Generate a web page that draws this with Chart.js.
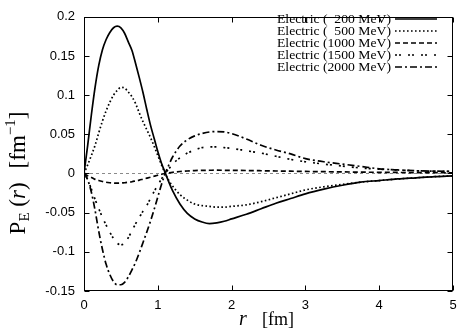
<!DOCTYPE html>
<html><head><meta charset="utf-8">
<script src="https://cdn.jsdelivr.net/npm/chart.js@4"></script>
<style>html,body{margin:0;padding:0;background:#fff}#wrap{width:469px;height:336px}</style>
</head><body><div id="wrap"><canvas id="c" width="469" height="336"></canvas></div>
<script>
// radius r [fm]
const r = [0,0.05,0.1,0.15,0.2,0.25,0.3,0.35,0.4,0.45,0.5,0.55,0.6,0.65,0.7,0.75,0.8,0.85,0.9,0.95,1.0,1.05,1.1,1.15,1.2,1.3,1.4,1.5,1.6,1.7,1.8,1.9,2.0,2.2,2.4,2.6,2.8,3.0,3.25,3.5,3.75,4.0,4.25,4.5,4.75,5.0];
const e200 = [0,0.036,0.075,0.110,0.138,0.158,0.171,0.180,0.186,0.188,0.186,0.179,0.168,0.157,0.140,0.122,0.103,0.082,0.062,0.045,0.028,0.013,0.001,-0.011,-0.022,-0.039,-0.051,-0.058,-0.062,-0.064,-0.063,-0.061,-0.058,-0.052,-0.045,-0.038,-0.032,-0.026,-0.020,-0.015,-0.011,-0.009,-0.007,-0.0055,-0.004,-0.003];
const e500 = [0,0.011,0.023,0.036,0.052,0.067,0.080,0.091,0.100,0.106,0.110,0.109,0.104,0.098,0.089,0.077,0.066,0.056,0.046,0.035,0.023,0.011,0.000,-0.009,-0.016,-0.027,-0.034,-0.039,-0.041,-0.042,-0.043,-0.043,-0.042,-0.040,-0.036,-0.031,-0.026,-0.021,-0.017,-0.014,-0.011,-0.009,-0.007,-0.0055,-0.004,-0.003];
const e1000 = [0,-0.003,-0.005,-0.0075,-0.009,-0.0102,-0.0112,-0.0118,-0.0122,-0.0123,-0.0122,-0.0118,-0.0112,-0.0105,-0.0095,-0.0085,-0.0072,-0.006,-0.0048,-0.0035,-0.0022,-0.001,0.0,0.0008,0.0015,0.0025,0.0032,0.0037,0.004,0.0041,0.0042,0.0041,0.004,0.0038,0.0035,0.0032,0.0029,0.0026,0.0023,0.002,0.0017,0.0015,0.0013,0.0011,0.001,0.0009];
const e1500 = [0,-0.008,-0.020,-0.033,-0.045,-0.056,-0.066,-0.075,-0.083,-0.089,-0.091,-0.089,-0.082,-0.073,-0.064,-0.056,-0.048,-0.041,-0.032,-0.023,-0.015,-0.007,0.000,0.006,0.012,0.020,0.026,0.030,0.033,0.034,0.034,0.033,0.032,0.029,0.026,0.022,0.018,0.015,0.012,0.0095,0.007,0.0055,0.0045,0.0035,0.003,0.0025];
const e2000 = [0,-0.008,-0.024,-0.047,-0.074,-0.097,-0.116,-0.129,-0.138,-0.142,-0.142,-0.139,-0.132,-0.123,-0.113,-0.101,-0.088,-0.075,-0.061,-0.046,-0.030,-0.014,0.000,0.011,0.021,0.035,0.043,0.048,0.051,0.053,0.0535,0.053,0.051,0.044,0.036,0.030,0.025,0.019,0.015,0.012,0.009,0.006,0.0045,0.0035,0.003,0.0025];
const seriesLabels = ['Electric (  200 MeV)','Electric (  500 MeV)','Electric (1000 MeV)','Electric (1500 MeV)','Electric (2000 MeV)'];
const xTicks = [0,1,2,3,4,5];
const xTickLabels = ['0','1','2','3','4','5'];
const yTicks = [-0.15,-0.1,-0.05,0,0.05,0.1,0.15,0.2];
const yTickLabels = ['-0.15','-0.1','-0.05','0','0.05','0.1','0.15','0.2'];

const series = [e200,e500,e1000,e1500,e2000];
const dashes = [[],[1.6,2.4],[5,3],[2,2,2,7],[7,3,2,3]];

const datasets = series.map((s,i)=>({
  label: seriesLabels[i],
  data: r.map((x,j)=>({x:x,y:s[j]})),
  borderColor:'#000',
  borderWidth:1.7,
  borderDash:dashes[i],
  pointRadius:0,
  fill:false,
  cubicInterpolationMode:'monotone'
}));

function drawRuns(ctx, runs, x0, y0){
  let x = x0;
  runs.forEach(rn=>{
    ctx.font = rn.f;
    ctx.fillText(rn.t, x, y0 + (rn.dy||0));
    x += ctx.measureText(rn.t).width + (rn.gap||0);
  });
}
function runsWidth(ctx, runs){
  let w=0; runs.forEach(rn=>{ctx.font=rn.f; w+=ctx.measureText(rn.t).width+(rn.gap||0);}); return w;
}

const framePlugin = {
  id:'frame',
  beforeDatasetsDraw(chart){
    const ctx=chart.ctx, a=chart.chartArea, ys=chart.scales.y;
    const y0 = Math.round(ys.getPixelForValue(0))+0.5;
    ctx.save();
    ctx.strokeStyle='#8a8a8a'; ctx.lineWidth=1; ctx.setLineDash([3,3]);
    ctx.beginPath(); ctx.moveTo(a.left,y0); ctx.lineTo(a.right,y0); ctx.stroke();
    ctx.restore();
  },
  afterDatasetsDraw(chart){
    const ctx=chart.ctx, a=chart.chartArea, xs=chart.scales.x, ys=chart.scales.y;
    ctx.save();
    ctx.strokeStyle='#000'; ctx.lineWidth=1; ctx.setLineDash([]);
    const L=Math.round(a.left)+0.5, R=Math.round(a.right)-0.5, T=Math.round(a.top)+0.5, B=Math.round(a.bottom)-0.5;
    ctx.strokeRect(L,T,R-L,B-T);
    ctx.beginPath();
    xs.ticks.forEach(t=>{const p=Math.round(xs.getPixelForValue(t.value))+0.5; ctx.moveTo(p,B); ctx.lineTo(p,B-5); ctx.moveTo(p,T); ctx.lineTo(p,T+5);});
    ys.ticks.forEach(t=>{const p=Math.round(ys.getPixelForValue(t.value))+0.5; ctx.moveTo(L,p); ctx.lineTo(L+5,p); ctx.moveTo(R,p); ctx.lineTo(R-5,p);});
    ctx.stroke();
    // legend
    const font='13px "Liberation Serif", "Times New Roman", serif';
    ctx.font=font;
    const sx = 114/ctx.measureText(seriesLabels[2]).width;
    chart.data.datasets.forEach((d,i)=>{
      const yy = 19 + i*12;
      ctx.save();
      ctx.translate(391,yy);
      ctx.scale(sx,1);
      ctx.fillStyle='#000'; ctx.textAlign='right'; ctx.textBaseline='middle'; ctx.font=font;
      ctx.fillText(d.label,0,0.5);
      ctx.restore();
      ctx.save();
      ctx.strokeStyle='#000'; ctx.lineWidth=d.borderWidth; ctx.setLineDash(d.borderDash);
      ctx.beginPath(); ctx.moveTo(395,yy); ctx.lineTo(437,yy); ctx.stroke();
      ctx.restore();
    });
    ctx.restore();
  },
  afterDraw(chart){
    const ctx=chart.ctx;
    ctx.save();
    ctx.fillStyle='#000'; ctx.textBaseline='alphabetic'; ctx.textAlign='left';
    const S='"Liberation Serif", "Times New Roman", serif';
    // x title
    ctx.font='italic 20px '+S; ctx.fillText('r',239,325);
    ctx.font='18px '+S; ctx.fillText('[fm]',262,325);
    // y title
    const runs=[
      {t:'P',f:'23px '+S},
      {t:'E',f:'15px '+S,dy:4},
      {t:' (',f:'23px '+S},
      {t:'r',f:'italic 23px '+S},
      {t:')',f:'23px '+S, gap:14},
      {t:'[fm',f:'23px '+S},
      {t:'\u22121',f:'15px '+S,dy:-10},
      {t:']',f:'23px '+S}
    ];
    const w=runsWidth(ctx,runs);
    ctx.translate(17,173);
    ctx.rotate(-Math.PI/2);
    drawRuns(ctx,runs,-w/2,8);
    ctx.restore();
  }
};

new Chart(document.getElementById('c'),{
  type:'line',
  data:{datasets:datasets},
  options:{
    responsive:false, animation:false, devicePixelRatio:1,
    layout:{padding:{left:0,top:16,right:16,bottom:0}},
    plugins:{legend:{display:false},tooltip:{enabled:false}},
    scales:{
      x:{type:'linear',min:0,max:5,
        afterBuildTicks:s=>{s.ticks=xTicks.map(v=>({value:v}));},
        afterFit:s=>{s.height=45;},
        grid:{display:false,drawTicks:false},border:{display:false},
        ticks:{color:'#000',padding:7,maxRotation:0,autoSkip:false,font:{family:'"Liberation Sans", Arial, sans-serif',size:13},
          callback:v=>xTickLabels[xTicks.indexOf(v)]}},
      y:{type:'linear',min:-0.15,max:0.2,
        afterBuildTicks:s=>{s.ticks=yTicks.map(v=>({value:v}));},
        afterFit:s=>{s.width=84;},
        grid:{display:false,drawTicks:false},border:{display:false},
        ticks:{color:'#000',padding:9,autoSkip:false,font:{family:'"Liberation Sans", Arial, sans-serif',size:13},
          callback:v=>yTickLabels[yTicks.indexOf(v)]}}
    }
  },
  plugins:[framePlugin]
});
</script></body></html>
